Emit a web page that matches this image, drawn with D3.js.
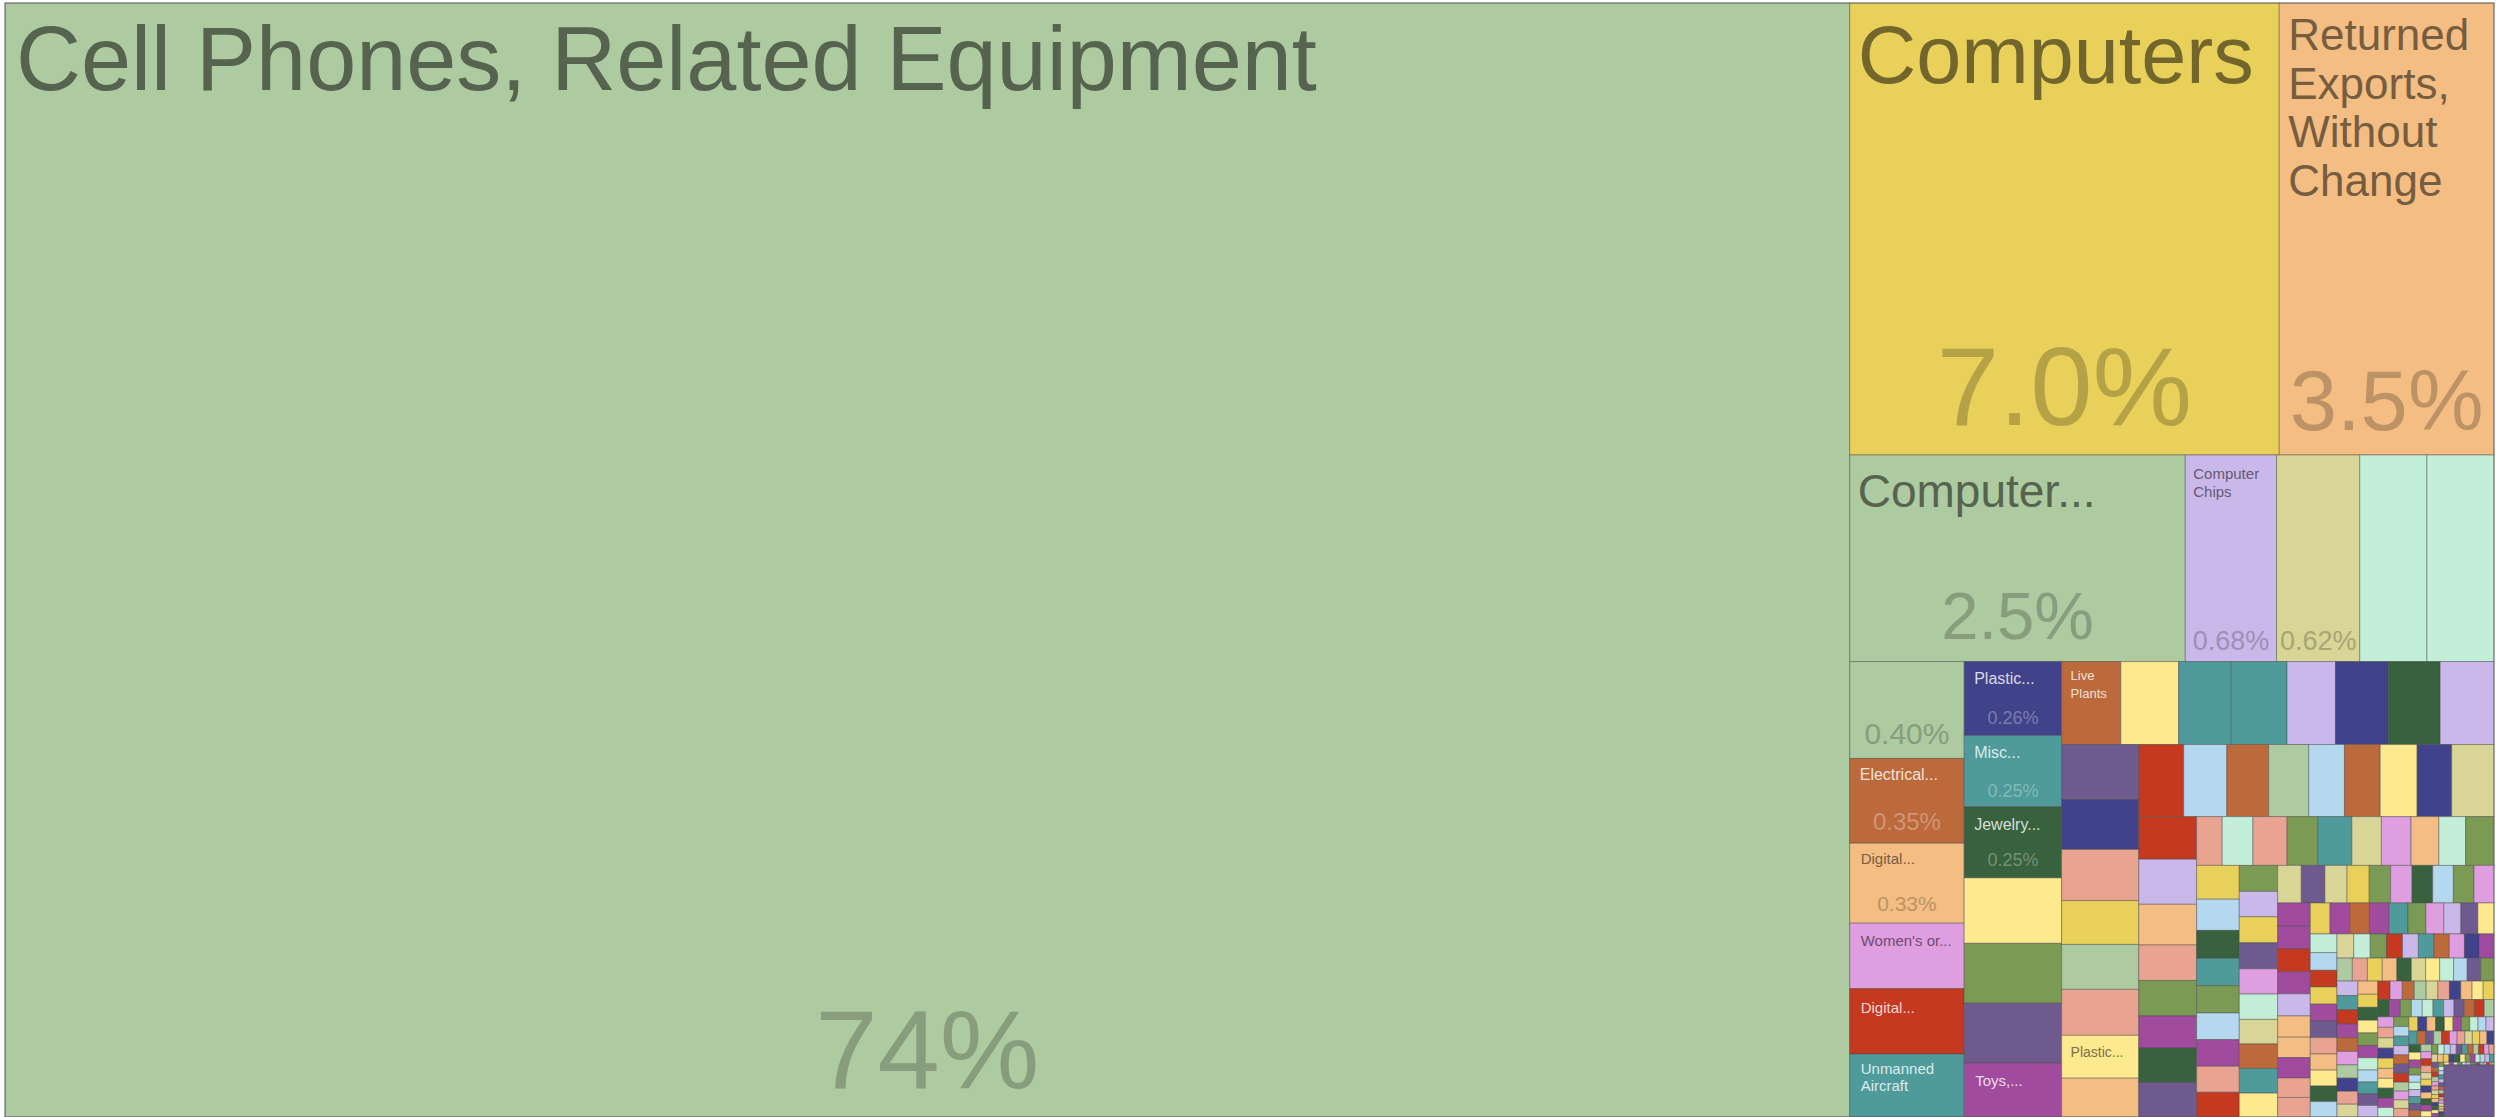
<!DOCTYPE html>
<html>
<head>
<meta charset="utf-8">
<script src="https://cdn.jsdelivr.net/npm/d3@7"></script>
<style>
html,body{margin:0;padding:0;background:#fff;}
svg{display:block;}
text{font-family:"Liberation Sans",Arial,Helvetica,sans-serif;}
</style>
</head>
<body>
<svg id="chart" width="2496" height="1117"></svg>
<script>
// ---------- DATA (shares of exports, %) ----------
const productNames = [
  "Cell Phones, Related Equipment", "Computers", "Returned Exports, Without Change",
  "Computer...", "Computer Chips", "", "", "",
  "", "Electrical...", "Digital...", "Women's or...", "Digital...", "Unmanned Aircraft",
  "Plastic...", "Misc...", "Jewelry...", "", "", "", "Toys,...",
  "Live Plants", "", "", "", "", "", "", "",
  "", "", "", "", "", "", "Plastic...", ""
];
const sharesTop    = [74.1, 7.0, 3.5];
const sharesRow2   = [2.5, 0.68, 0.62, 0.50, 0.50];
const sharesCol1   = [0.40, 0.35, 0.33, 0.27, 0.27, 0.26];
const sharesCol2   = [0.26, 0.25, 0.25, 0.23, 0.21, 0.21, 0.19];
const sharesRow3   = [0.177, 0.173, 0.157, 0.167, 0.145, 0.158, 0.155, 0.161];
const sharesCol3   = [0.153, 0.139, 0.142, 0.122, 0.125, 0.128, 0.119, 0.108];
const sharesRow4   = [0.117, 0.112, 0.109, 0.104, 0.093, 0.093, 0.096, 0.090, 0.110];
const sharesCol4   = [0.089, 0.094, 0.085, 0.074, 0.074, 0.067, 0.072, 0.072, 0.045];
const sharesRow5   = [0.054, 0.060, 0.054, 0.060, 0.052, 0.052, 0.049, 0.047, 0.050, 0.052];
const sharesCol5   = [0.048, 0.043, 0.042, 0.042, 0.041, 0.041, 0.040, 0.038, 0.036, 0.035];
const sharesRow6   = [0.036, 0.036, 0.035, 0.035, 0.034, 0.034, 0.034, 0.033, 0.032, 0.032];
const sharesCol6   = [0.030, 0.030, 0.029, 0.029, 0.028, 0.028, 0.028, 0.027, 0.027, 0.027];
const sharesRow7   = [0.027, 0.026, 0.026, 0.025, 0.024, 0.024, 0.023, 0.023, 0.022, 0.022];
const sharesCol7   = [0.022, 0.022, 0.021, 0.020, 0.020, 0.019, 0.019, 0.018, 0.018, 0.017, 0.016];
const sharesTail   = [
  0.0165,0.0162,0.016,0.0158,0.0155,0.0153,0.015,0.0148,0.0146,0.0144,0.0142,0.014,0.0138,0.0136,0.0134,0.0132,0.013,0.0128,0.0127,0.0125,
  0.0123,0.0121,0.012,0.0118,0.0116,0.0115,0.0113,0.0112,0.011,0.0109,0.0107,0.0106,0.0104,0.0103,0.0101,0.01,0.0099,0.0097,0.0096,0.0095,
  0.0094,0.0093,0.0091,0.009,0.0089,0.0088,0.0086,0.0085,0.0084,0.0083,0.0082,0.0081,0.008,0.0079,0.0078,0.0077,0.0076,0.0075,0.0074,0.0072,
  0.0071,0.007,0.0069,0.0068,0.0067,0.0066,0.0065,0.0064,0.0063,0.0062,0.0061,0.006,0.006,0.0059,0.0058,0.0058,0.0057,0.0056,0.0056,0.0055,
  0.0054,0.0053,0.0053,0.0052,0.0051,0.0051,0.005,0.0049,0.0049,0.0048,0.0047,0.0047,0.0046,0.0046,0.0045,0.0045,0.0044,0.0043,0.0043,0.0042,
  0.0041,0.0041,0.004,0.004,0.0039,0.0038,0.0038,0.0037,0.0037,0.0036,0.0035,0.0035,0.0034,0.0034,0.0033,0.0033,0.0032,0.0031,0.0031,0.003,
  0.003,0.0029,0.0029,0.0028,0.0028,0.0027,0.0027,0.0026,0.0026,0.0025,0.0025,0.0024,0.0024,0.0023,0.0023,0.0022,0.0022,0.0021,0.0021,0.002,
  0.002,0.0019,0.0019,0.0018,0.0018,0.0017,0.0017,0.0016,0.0016,0.0016,0.0015,0.0015,0.0014,0.0014,0.0014,0.0013,0.0013,0.0013,0.0012,0.0012,
  0.0012,0.0011,0.0011,0.0011,0.001,0.001,0.001,0.0009,0.0009,0.0009,0.0008,0.0008,0.0008,0.0008,0.0007,0.0007,0.0007,0.0007,0.0006,0.0006,
  0.0006,0.0006,0.0005,0.0005,0.0005,0.0005,0.0005,0.0004,0.0004,0.0004,0.0004,0.0004,0.0003,0.0003,0.0003,0.0003,0.0003,0.0003,0.0002,0.0002
];
const sharesLast   = [0.094];

// colour category of every cell, in the same order as the shares
const colorKeys = [
  "GYP", "GLKMM", "GOPIRT", "NTDWVUA", "OWTTLNDL", "UNSYGSWP", "RBOGBOWNK", "RLPSVADUS",
  "MSVTKIPMVY", "BDTVBASRVL", "YUIMKOTWKU", "KYVIDBVIAA", "RALPPASSYA", "OATVILUWMBR",
  "YAUSPWDBKMVRLTOINAGSYPDKWMBUVLTRAOIGNSKPYDWVAMBTULRIOGKSNPWYDAVBMTLUORGISKNYPWDAMVBTLOURGIKSYNPDWAVM",
  "BLTOUGRISKYPNDWAVBMLTUOGIRSKYNPDAWVMBLUTOGRISKPYNDWVAMBLTUORGISKYPNDWAVMBTLUOGRSIKYPNDWAMVBLTOUGIRSK",
  "U"
].join("").split("");

const palette = {
  G:"#adcaa1", Y:"#e8d05b", P:"#f3bd83", L:"#cbb8ea", K:"#d9d597", M:"#c3eed8",
  N:"#41438a", O:"#bc693b", T:"#4f9a9a", D:"#38613d", W:"#fde98e", U:"#6e5a8f",
  S:"#e9a391", R:"#c4391f", V:"#7b9a54", I:"#de9ee0", A:"#a04b9e", B:"#b4d8ee"
};

// ---------- label styling (kept apart from data) ----------
const labelStyles = {
  0:  {size:90, dx:11, dy:87, pct:112, pdy:29},
  1:  {size:81, dx:8,  dy:80, pct:112, pdy:30},
  2:  {size:44, dx:9,  dy:47, lh:48.5, lines:["Returned","Exports,","Without","Change"], pct:85, pdy:25},
  3:  {size:46, dx:8,  dy:52, pct:67, pdy:23},
  4:  {size:15, dx:8,  dy:24, lh:18, lines:["Computer","Chips"], pct:27, pdy:12},
  5:  {pct:27, pdy:12},
  8:  {pct:30, pdy:14},
  9:  {size:16, dx:10, dy:22, pct:24, pdy:13},
  10: {size:15, dx:11, dy:21, pct:21, pdy:12},
  11: {size:15, dx:11, dy:23},
  12: {size:15, dx:11, dy:24},
  13: {size:15, dx:11, dy:20, lh:17, lines:["Unmanned","Aircraft"]},
  14: {size:16, dx:10, dy:22, pct:18, pdy:12},
  15: {size:16, dx:10, dy:22, pct:18, pdy:10},
  16: {size:16, dx:10, dy:23, pct:18, pdy:12},
  20: {size:15, dx:11, dy:23},
  21: {size:13, dx:9,  dy:18, lh:18, lines:["Live","Plants"]},
  35: {size:14, dx:9,  dy:22}
};

// ---------- build ----------
const shares = [].concat(sharesTop, sharesRow2, sharesCol1, sharesCol2, sharesRow3, sharesCol3,
  sharesRow4, sharesCol4, sharesRow5, sharesCol5, sharesRow6, sharesCol6, sharesRow7, sharesCol7,
  sharesTail, sharesLast);
const items = shares.map((v, i) => ({
  id: i, value: v, name: productNames[i] || "", key: colorKeys[i] || "G"
}));

const X0 = 5, Y0 = 3, X1 = 2494, Y1 = 1117;
const svg = d3.select("#chart");
const root = d3.hierarchy({children: items}).sum(d => d.value || 0);
d3.treemap().tile(d3.treemapSquarify).size([X1 - X0, Y1 - Y0]).round(false)(root);

const g = svg.append("g").attr("transform", `translate(${X0},${Y0})`);
const leaves = root.leaves();

function isDark(c) {
  const r = d3.rgb(c);
  return 0.299 * r.r + 0.587 * r.g + 0.114 * r.b < 140;
}
const fmt = d3.format(".2r");

const cell = g.selectAll("g.cell").data(leaves).join("g").attr("class", "cell");
cell.append("rect")
  .attr("x", d => d.x0).attr("y", d => d.y0)
  .attr("width", d => Math.max(0, d.x1 - d.x0))
  .attr("height", d => Math.max(0, d.y1 - d.y0))
  .attr("fill", d => palette[d.data.key])
  .attr("stroke", "rgba(70,70,70,0.45)")
  .attr("stroke-width", 1);

leaves.forEach(d => {
  const st = labelStyles[d.data.id];
  if (!st) return;
  const fill = palette[d.data.key];
  const dark = isDark(fill);
  const titleColor = dark ? d3.interpolateRgb(fill, "#ffffff")(0.8) : d3.color(fill).darker(2).formatHex();
  const pctColor = dark ? d3.interpolateRgb(fill, "#ffffff")(0.3) : d3.color(fill).darker(0.7).formatHex();
  if (st.size && d.data.name) {
    const lines = st.lines || [d.data.name];
    const t = g.append("text")
      .attr("x", d.x0 + st.dx).attr("y", d.y0 + st.dy)
      .attr("font-size", st.size).attr("fill", titleColor);
    lines.forEach((ln, k) => {
      t.append("tspan").attr("x", d.x0 + st.dx).attr("y", d.y0 + st.dy + k * (st.lh || 0)).text(ln);
    });
  }
  if (st.pct) {
    g.append("text")
      .attr("x", (d.x0 + d.x1) / 2).attr("y", d.y1 - st.pdy)
      .attr("text-anchor", "middle")
      .attr("font-size", st.pct).attr("fill", pctColor)
      .text(fmt(d.data.value) + "%");
  }
});

// outer frame
g.append("rect").attr("x", 0).attr("y", 0)
  .attr("width", X1 - X0).attr("height", Y1 - Y0)
  .attr("fill", "none").attr("stroke", "rgba(90,90,90,0.5)").attr("stroke-width", 1.5);
</script>
</body>
</html>
